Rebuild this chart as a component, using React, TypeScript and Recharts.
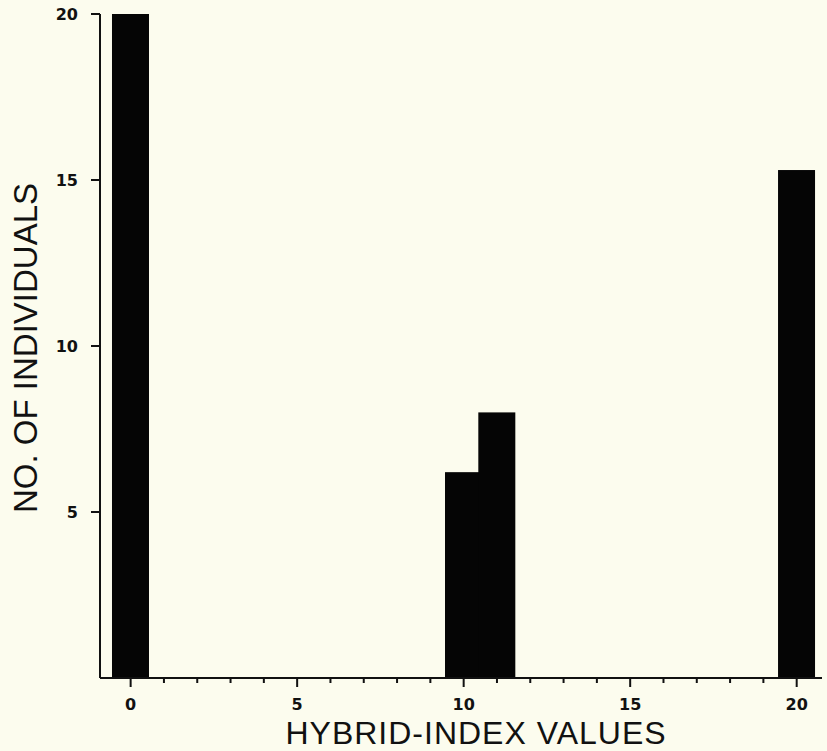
import React from 'react';
import { BarChart, Bar, XAxis, YAxis } from 'recharts';

const hybridIndex = [0, 10, 11, 20];
const individuals = [20, 6.2, 8, 15.3];
const xTicks = [0, 1, 2, 3, 4, 5, 6, 7, 8, 9, 10, 11, 12, 13, 14, 15, 16, 17, 18, 19, 20];
const xLabelled = [0, 5, 10, 15, 20];
const yTicks = [5, 10, 15, 20];

const data = hybridIndex.map((x, i) => ({ x, n: individuals[i] }));

const tickFont = "'DejaVu Sans', sans-serif";
const titleFont = "'Liberation Sans', Arial, sans-serif";

const XTick: React.FC<any> = ({ x, y, payload }) => {
    const major = xLabelled.includes(payload.value);
    return (
        <g>
            <line x1={x} x2={x} y1={y} y2={y + (major ? 9 : 5)} stroke="#111" strokeWidth={2} />
            {major && (
                <text x={x} y={y + 32} textAnchor="middle" fontFamily={tickFont} fontWeight="bold" fontSize={16} fill="#111">
                    {payload.value}
                </text>
            )}
        </g>
    );
};

const YTick: React.FC<any> = ({ x, y, payload }) => (
    <g>
        <line x1={x - 9} x2={x} y1={y} y2={y} stroke="#111" strokeWidth={2} />
        <text x={x - 22} y={y + 6} textAnchor="end" fontFamily={tickFont} fontWeight="bold" fontSize={16} fill="#111">
            {payload.value}
        </text>
    </g>
);

// slightly wider than the unit band, like the printed bars
const WideBar: React.FC<any> = ({ x, y, width, height, fill }) => (
    <rect x={x - 2} y={y} width={width + 4} height={height} fill={fill} />
);

const App: React.FC = () => {
    return (
        <div style={{ position: 'fixed', left: 0, top: 0, width: 827, height: 751, background: '#fcfcee' }}>
            <BarChart width={827} height={751} data={data} barCategoryGap={0} barGap={0} margin={{ top: 14, right: 5, left: 0, bottom: 0 }}>
                <XAxis
                    dataKey="x"
                    type="number"
                    domain={[-0.92, 20.76]}
                    ticks={xTicks}
                    interval={0}
                    height={73}
                    tickSize={0}
                    tickMargin={0}
                    tick={<XTick />}
                    axisLine={{ stroke: '#111', strokeWidth: 2 }}
                    allowDataOverflow
                />
                <YAxis
                    type="number"
                    domain={[0, 20]}
                    ticks={yTicks}
                    width={100}
                    tickSize={0}
                    tickMargin={0}
                    tick={<YTick />}
                    axisLine={{ stroke: '#111', strokeWidth: 2 }}
                    allowDataOverflow
                />
                <Bar dataKey="n" fill="#050505" shape={<WideBar />} isAnimationActive={false} />
            </BarChart>
            <svg width={827} height={751} style={{ position: 'absolute', left: 0, top: 0, pointerEvents: 'none' }}>
                <text x={476} y={744} textAnchor="middle" fontFamily={titleFont} fontSize={32} letterSpacing={1} fill="#111">
                    HYBRID-INDEX VALUES
                </text>
                <text x={37} y={348} textAnchor="middle" fontFamily={titleFont} fontSize={33} fill="#111" transform="rotate(-90, 37, 348)">
                    NO. OF INDIVIDUALS
                </text>
            </svg>
        </div>
    );
};

export default App;
